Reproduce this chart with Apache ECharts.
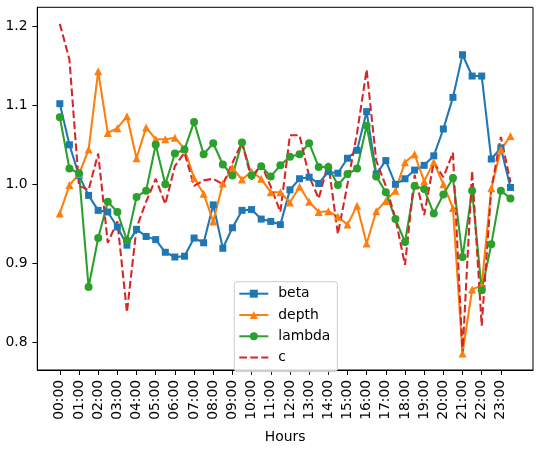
<!DOCTYPE html>
<html>
<head>
<meta charset="utf-8">
<script src="https://cdn.jsdelivr.net/npm/echarts@6/dist/echarts.min.js"></script>
<style>
html,body{margin:0;padding:0;background:#fff;}
#chart{width:541px;height:449px;}
</style>
</head>
<body>
<div id="chart"></div>
<script>
const times = ["00:00","00:30","01:00","01:30","02:00","02:30","03:00","03:30","04:00","04:30",
"05:00","05:30","06:00","06:30","07:00","07:30","08:00","08:30","09:00","09:30",
"10:00","10:30","11:00","11:30","12:00","12:30","13:00","13:30","14:00","14:30",
"15:00","15:30","16:00","16:30","17:00","17:30","18:00","18:30","19:00","19:30",
"20:00","20:30","21:00","21:30","22:00","22:30","23:00","23:30"];

const tickTimes = ["00:00","01:00","02:00","03:00","04:00","05:00","06:00","07:00","08:00","09:00",
"10:00","11:00","12:00","13:00","14:00","15:00","16:00","17:00","18:00","19:00",
"20:00","21:00","22:00","23:00"];

const yTicks = [0.8, 0.9, 1.0, 1.1, 1.2];

const beta = [1.102,1.050,1.011,0.986,0.967,0.965,0.946,0.923,0.943,0.934,
0.930,0.914,0.908,0.909,0.932,0.926,0.974,0.919,0.945,0.967,
0.968,0.956,0.953,0.949,0.993,1.007,1.009,1.001,1.016,1.014,
1.033,1.043,1.092,1.013,1.030,1.000,1.007,1.018,1.024,1.036,
1.070,1.110,1.164,1.137,1.137,1.032,1.046,0.996];

const depth = [0.963,0.999,1.013,1.044,1.143,1.065,1.071,1.086,1.033,1.072,
1.057,1.057,1.059,1.045,1.008,0.988,0.953,1.001,1.021,1.006,
1.016,1.007,0.990,0.990,0.977,0.997,0.978,0.965,0.966,0.959,
0.949,0.973,0.925,0.966,0.979,0.992,1.028,1.038,1.004,1.028,
1.000,0.970,0.786,0.867,0.872,0.995,1.044,1.061];

const lambda = [1.085,1.020,1.014,0.870,0.932,0.978,0.965,0.929,0.984,0.992,
1.050,1.000,1.039,1.044,1.079,1.038,1.052,1.025,1.011,1.053,
1.011,1.023,1.010,1.024,1.035,1.038,1.052,1.022,1.022,0.999,
1.013,1.020,1.074,1.010,0.990,0.956,0.927,0.998,0.994,0.963,
0.987,1.008,0.908,0.992,0.866,0.924,0.992,0.982];

const c = [1.203,1.158,0.998,0.993,1.039,0.926,0.953,0.838,0.945,0.978,
1.007,0.975,1.023,1.040,0.998,1.005,1.007,1.000,1.027,1.053,
1.006,1.026,0.997,0.965,1.062,1.062,1.010,0.982,1.027,0.937,
1.000,1.065,1.145,1.030,0.998,0.957,0.898,1.012,0.961,1.028,
1.009,1.040,0.786,1.017,0.821,0.994,1.060,1.003];

const seriesNames = ["beta","depth","lambda","c"];
const colors = ["#1f77b4","#ff7f0e","#2ca02c","#d62728"];

function pairs(arr){ return arr.map((v,i)=>[i,v]); }
const tickIdx = tickTimes.map(t => times.indexOf(t));

const FONT = "DejaVu Sans";
const chart = echarts.init(document.getElementById('chart'), null, {renderer:'canvas'});
const n = times.length;
const pad = (n-1)*0.05;

chart.setOption({
  animation:false,
  backgroundColor:'#fff',
  grid:{left:37.3, right:8, top:7.3, bottom:71.3, show:true, borderColor:'#000', borderWidth:1, backgroundColor:'transparent'},
  xAxis:{
    type:'value', min:-pad, max:(n-1)+pad,
    name:'Hours', nameLocation:'middle', nameGap:60,
    nameTextStyle:{color:'#000', fontFamily:FONT, fontSize:13.9},
    axisLine:{show:true, onZero:false, lineStyle:{color:'#000', width:1}},
    splitLine:{show:false},
    axisTick:{show:true, length:4.9, lineStyle:{color:'#000', width:1}, customValues:tickIdx},
    axisLabel:{show:true, rotate:90, margin:9.8, color:'#000', fontFamily:FONT, fontSize:13.9,
      customValues:tickIdx, formatter:(v)=>times[Math.round(v)]}
  },
  yAxis:{
    type:'value', min:0.765, max:1.224,
    axisLine:{show:true, onZero:false, lineStyle:{color:'#000', width:1}},
    splitLine:{show:false},
    axisTick:{show:true, length:4.9, lineStyle:{color:'#000', width:1}, customValues:yTicks},
    axisLabel:{show:true, margin:9.8, color:'#000', fontFamily:FONT, fontSize:13.9,
      customValues:yTicks, formatter:(v)=>v.toFixed(1)}
  },
  legend:{
    orient:'vertical', left:234.3, top:281.7,
    data:[seriesNames[0], seriesNames[1], seriesNames[2], {name:seriesNames[3], itemStyle:{opacity:0}}],
    itemWidth:29, itemHeight:10, itemGap:7.3,
    padding:[5,7,7,4],
    borderColor:'#cccccc', borderWidth:1, borderRadius:3,
    backgroundColor:'rgba(255,255,255,0.8)',
    textStyle:{color:'#000', fontFamily:FONT, fontSize:13.9, padding:[0,0,0,5]}
  },
  series:[
    {name:'beta', type:'line', data:pairs(beta), color:colors[0], symbol:'rect', symbolSize:7, showAllSymbol:true,
      lineStyle:{width:2.08}, itemStyle:{color:colors[0]}},
    {name:'depth', type:'line', data:pairs(depth), color:colors[1], symbol:'triangle', symbolSize:8, showAllSymbol:true,
      lineStyle:{width:2.08}, itemStyle:{color:colors[1]}},
    {name:'lambda', type:'line', data:pairs(lambda), color:colors[2], symbol:'circle', symbolSize:8, showAllSymbol:true,
      lineStyle:{width:2.08}, itemStyle:{color:colors[2]}},
    {name:'c', type:'line', data:pairs(c), color:colors[3], symbol:'none',
      lineStyle:{width:2.08, type:[7.7,3.3]}, itemStyle:{color:colors[3]}}
  ]
});
</script>
</body>
</html>
